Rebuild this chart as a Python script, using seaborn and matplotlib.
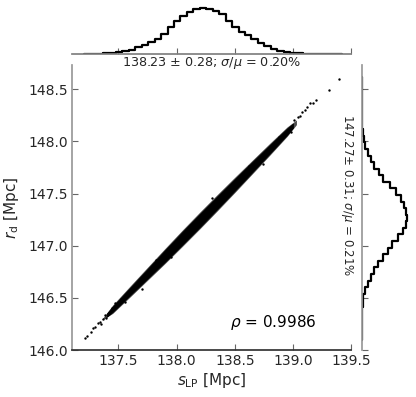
import numpy as np
import matplotlib
matplotlib.use('Agg')
import matplotlib.pyplot as plt
import seaborn as sns

# marginal histogram of s_LP (40 bins, heights)
x_range = (137.20, 139.42)
x_counts = [0.1, 0.2, 0.3, 0.5, 1.0, 1.7, 2.8, 4.2, 6.8, 9.2,
            12.5, 15.5, 20.5, 27.0, 33.0, 38.0, 42.0, 44.8, 46.0, 45.5,
            43.5, 40.0, 33.0, 27.0, 22.5, 19.0, 15.0, 11.5, 8.5, 5.5,
            3.2, 1.9, 1.0, 0.5, 0.3, 0.2, 0.1, 0.1, 0.05, 0.05]

# marginal histogram of r_d (40 bins, heights)
y_range = (146.10, 148.62)
y_counts = [0.05, 0.05, 0.1, 0.2, 0.3, 0.6, 1.2, 3.0, 5.8, 9.0,
            12.5, 16.5, 21.5, 26.5, 31.0, 36.5, 41.5, 44.5, 45.7, 45.0,
            43.0, 39.5, 35.0, 29.0, 21.5, 17.0, 12.5, 9.0, 6.0, 3.5,
            2.0, 1.0, 0.4, 0.2, 0.1, 0.1, 0.05, 0.05, 0.03, 0.03]

# dense core of the scatter cloud: lower / upper edge of the band
band_x = [137.40, 137.45, 137.60, 137.75, 137.90, 138.05, 138.20,
          138.35, 138.50, 138.65, 138.80, 138.95, 139.00]
band_lo = [146.320, 146.367, 146.527, 146.687, 146.847, 147.013, 147.181,
           147.353, 147.528, 147.705, 147.883, 148.063, 148.130]
band_hi = [146.350, 146.417, 146.597, 146.777, 146.957, 147.133, 147.305,
           147.473, 147.638, 147.801, 147.963, 148.123, 148.170]
# thinner outer halo of the cloud
halo_x = [137.36, 137.45, 137.60, 137.75, 137.90, 138.05, 138.20,
          138.35, 138.50, 138.65, 138.80, 138.95, 139.03]
halo_lo = [146.290, 146.352, 146.510, 146.670, 146.830, 146.995, 147.163,
           147.335, 147.510, 147.688, 147.866, 148.048, 148.160]
halo_hi = [146.300, 146.432, 146.614, 146.794, 146.974, 147.151, 147.323,
           147.491, 147.656, 147.818, 147.980, 148.138, 148.205]

# sparse samples in the tails and along the band edges
tail_x = [137.21, 137.225, 137.26, 137.28, 137.30, 137.32, 137.34, 137.35,
          137.37, 137.38, 137.39, 137.42, 137.44, 137.47, 137.52,
          137.56, 137.63, 137.70, 137.82, 137.95, 138.12, 138.30, 138.44,
          138.62, 138.74, 138.88, 138.98,
          139.01, 139.04, 139.06, 139.08, 139.10, 139.12, 139.15, 139.17,
          139.195, 139.31, 139.396]
tail_y = [146.12, 146.14, 146.17, 146.21, 146.22, 146.26, 146.27, 146.25,
          146.30, 146.34, 146.31, 146.36, 146.40, 146.45, 146.49,
          146.46, 146.60, 146.59, 146.86, 146.89, 147.20, 147.46, 147.48,
          147.76, 147.78, 148.04, 148.09,
          148.20, 148.235, 148.24, 148.28, 148.30, 148.33, 148.366, 148.37,
          148.395, 148.49, 148.60]

rho = 0.9986
x_label_top = '138.23 ± 0.28; $\\sigma/\\mu$ = 0.20%'
y_label_right = '147.27± 0.31; $\\sigma/\\mu$ = 0.21%'


def bin_centers(lims, n):
    edges = np.linspace(lims[0], lims[1], n + 1)
    return 0.5 * (edges[:-1] + edges[1:])


def main():
    sns.set_theme(style='white')
    plt.rcParams['font.family'] = ['DejaVu Sans']

    fig = plt.figure(figsize=(4.16, 3.97), dpi=100)
    ax = fig.add_axes([0.173, 0.118, 0.671, 0.718])
    ax_top = fig.add_axes([0.173, 0.864, 0.671, 0.123], sharex=ax)
    ax_right = fig.add_axes([0.870, 0.118, 0.12, 0.718], sharey=ax)

    # joint cloud
    ax.fill_between(halo_x, halo_lo, halo_hi, color='0.3', lw=0)
    ax.fill_between(band_x, band_lo, band_hi, color='black', lw=0.6)
    sns.scatterplot(x=tail_x, y=tail_y, s=3, color='black', linewidth=0, ax=ax)
    ax.set_xlim(137.1, 139.5)
    ax.set_ylim(146.0, 148.73)
    ax.set_xticks([137.5, 138.0, 138.5, 139.0, 139.5])
    ax.set_yticks([146.0, 146.5, 147.0, 147.5, 148.0, 148.5])
    ax.set_xlabel(r'$s_{\rm LP}$ [Mpc]', fontsize=11, labelpad=2)
    ax.set_ylabel(r'$r_{\rm d}$ [Mpc]', fontsize=11, labelpad=5)
    ax.tick_params(direction='in', length=4, width=0.8, color='0.4',
                   labelsize=10, bottom=True, left=True, pad=3)
    ax.spines['top'].set_visible(False)
    ax.spines['right'].set_visible(False)
    ax.spines['left'].set_color('0.6')
    ax.spines['bottom'].set_color('0.2')
    ax.text(0.566, 0.098, r'$\rho$ = %.4f' % rho, transform=ax.transAxes,
            fontsize=11, ha='left', va='center', color='black')

    # top marginal
    xc = bin_centers(x_range, len(x_counts))
    sns.histplot(x=xc, weights=x_counts, bins=len(x_counts), binrange=x_range,
                 element='step', fill=False, color='black', lw=1.6, ax=ax_top)
    ax_top.set_ylim(0, max(x_counts) * 1.065)
    ax_top.set_ylabel('')
    ax_top.set_xlabel(x_label_top, fontsize=9.2, labelpad=1)
    ax_top.tick_params(axis='x', direction='in', length=4, width=0.8, color='0.4',
                       bottom=True, labelbottom=False)
    ax_top.tick_params(axis='y', left=False, labelleft=False)
    for s in ['top', 'right', 'left']:
        ax_top.spines[s].set_visible(False)
    ax_top.spines['bottom'].set_color('0.5')

    # right marginal
    yc = bin_centers(y_range, len(y_counts))
    sns.histplot(y=yc, weights=y_counts, bins=len(y_counts), binrange=y_range,
                 element='step', fill=False, color='black', lw=1.6, ax=ax_right)
    ax_right.set_xlim(0, max(y_counts) * 1.11)
    ax_right.set_xlabel('')
    ax_right.set_ylabel('')
    ax_right.tick_params(axis='y', direction='in', length=4, width=0.8, color='0.4',
                         left=True, labelleft=False)
    ax_right.tick_params(axis='x', bottom=False, labelbottom=False)
    for s in ['top', 'right', 'bottom']:
        ax_right.spines[s].set_visible(False)
    ax_right.spines['left'].set_color('0.6')
    fig.text(0.834, 0.509, y_label_right, rotation=270, fontsize=8.5,
             ha='center', va='center', color='.15')

    fig.savefig('out.png', dpi=100)
    plt.close(fig)


if __name__ == '__main__':
    main()
